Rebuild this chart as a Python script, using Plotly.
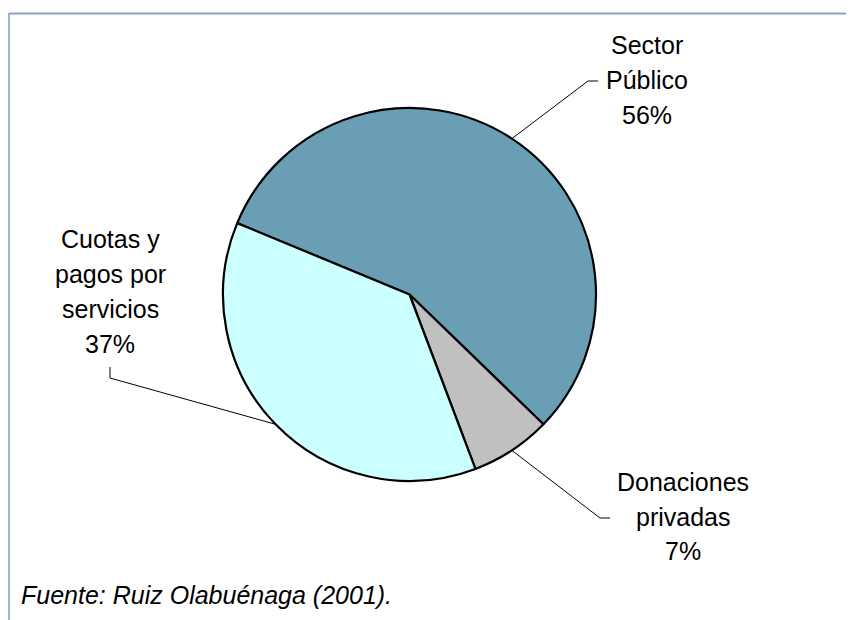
import math
import plotly.graph_objects as go

labels = ["Sector Público", "Donaciones privadas", "Cuotas y pagos por servicios"]
label_lines = [["Sector", "Público"], ["Donaciones", "privadas"], ["Cuotas y", "pagos por", "servicios"]]
values = [56, 7, 37]
colors = ["#6A9EB5", "#C0C0C0", "#CCFFFF"]

W, H = 854, 620
OFF = 8  # page body margin
FW, FH = W - OFF, H - OFF
FONT = "Liberation Sans, Arial, sans-serif"

# pie geometry in page pixels
cx, cy, R = 409.5, 294.5, 186.5
rotation = -67.5

# label placement (page pixels): text centre x, first line y, line step; leader elbow points
label_pos = [(647, 44, 35), (683, 481, 34.5), (110, 237.5, 35)]
elbows = [[(588, 81), (598, 81)], [(600, 518), (610, 518)], [(110, 378), (110, 367)]]


def px(x):
    return (x - OFF) / FW


def py(y):
    return 1 - (y - OFF) / FH


fig = go.Figure(go.Pie(
    labels=labels, values=values, sort=False, direction="clockwise",
    rotation=rotation, textinfo="none", hoverinfo="label+percent",
    marker=dict(colors=colors, line=dict(color="black", width=2.2)),
    domain=dict(x=[px(cx - R), px(cx + R)], y=[py(cy + R), py(cy - R)]),
    showlegend=False,
))

total = sum(values)
cum = 0
shapes = []
annotations = []
for i, v in enumerate(values):
    mid = rotation + (cum + v / 2) / total * 360
    cum += v
    a = math.radians(mid)
    sx, sy = cx + R * math.sin(a), cy - R * math.cos(a)
    pts = [(sx, sy)] + elbows[i]
    for (x0, y0), (x1, y1) in zip(pts[:-1], pts[1:]):
        shapes.append(dict(type="line", xref="paper", yref="paper",
                           x0=px(x0), y0=py(y0), x1=px(x1), y1=py(y1),
                           line=dict(color="black", width=1)))
    pct = round(v / total * 100)
    lx, ly, step = label_pos[i]
    for j, t in enumerate(label_lines[i] + [f"{pct}%"]):
        annotations.append(dict(text=t, x=px(lx), y=py(ly + j * step + 1),
                                xref="paper", yref="paper", showarrow=False,
                                xanchor="center", yanchor="middle",
                                font=dict(family=FONT, size=25, color="black")))

annotations.append(dict(text="<i>Fuente: Ruiz Olabuénaga (2001).</i>", x=px(19), y=py(595),
                        xref="paper", yref="paper", showarrow=False,
                        xanchor="left", yanchor="middle",
                        font=dict(family=FONT, size=25, color="black")))

# frame lines at top and left
shapes.append(dict(type="line", xref="paper", yref="paper", x0=px(9), y0=py(13.5), x1=1, y1=py(13.5),
                   line=dict(color="#8AA3C4", width=2)))
shapes.append(dict(type="line", xref="paper", yref="paper", x0=px(9), y0=py(13), x1=px(9), y1=0,
                   line=dict(color="#7F9ACB", width=1.5)))

fig.update_layout(
    width=FW, height=FH, margin=dict(l=0, r=0, t=0, b=0),
    paper_bgcolor="white", plot_bgcolor="white",
    shapes=shapes, annotations=annotations,
)

fig.write_html("out.html")
